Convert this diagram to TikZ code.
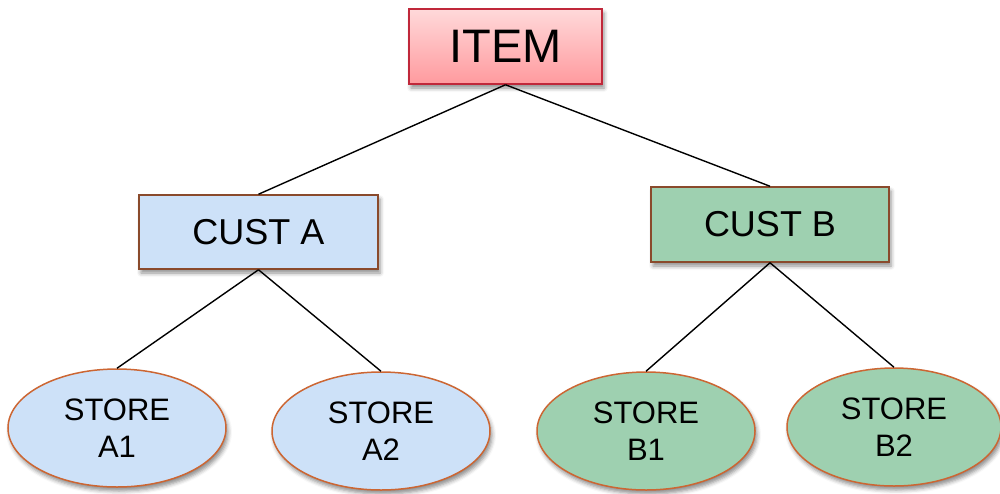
\documentclass[tikz,border=0pt]{standalone}
\usepackage{fontspec}
\setmainfont{Liberation Sans}
\usetikzlibrary{shapes.geometric,shadows.blur}

\definecolor{itemtop}{HTML}{FFD9DA}
\definecolor{itembot}{HTML}{FF9A9E}
\definecolor{itemline}{HTML}{C0283A}
\definecolor{bluefill}{HTML}{CDE1F8}
\definecolor{greenfill}{HTML}{9ED0B0}
\definecolor{boxline}{HTML}{8A4A2C}
\definecolor{ovalline}{HTML}{CC6633}

\tikzset{
  softshadow/.style={blur shadow={shadow xshift=2pt, shadow yshift=-4pt,
      shadow blur radius=4pt, shadow opacity=45}},
  boxnode/.style={rectangle, draw=boxline, line width=1.5pt, inner sep=0pt,
      font=\fontsize{36}{40}\selectfont, softshadow},
  ovalnode/.style={ellipse, draw=ovalline, line width=1.5pt, inner sep=0pt,
      minimum width=218pt, minimum height=118pt, align=center,
      font=\fontsize{31}{37}\selectfont, softshadow},
  link/.style={line width=1.4pt, black},
}

\begin{document}
\begin{tikzpicture}[x=1pt, y=-1pt]
  \useasboundingbox (0,0) rectangle (1000,493);

  % root
  \node[boxnode, draw=itemline, top color=itemtop, bottom color=itembot,
        minimum width=193pt, minimum height=75pt,
        font=\fontsize{47}{50}\selectfont] (item) at (505.5,46.5) {ITEM};

  % customers
  \node[boxnode, fill=bluefill, minimum width=239pt, minimum height=74pt]
        (custa) at (258.5,232) {CUST A};
  \node[boxnode, fill=greenfill, minimum width=238pt, minimum height=75pt]
        (custb) at (770,224.5) {CUST B};

  % stores
  \node[ovalnode, fill=bluefill]  (a1) at (117,428) {STORE\\A1};
  \node[ovalnode, fill=bluefill]  (a2) at (381,431) {STORE\\A2};
  \node[ovalnode, fill=greenfill] (b1) at (646,431) {STORE\\B1};
  \node[ovalnode, fill=greenfill, minimum width=214pt] (b2) at (894,427) {STORE\\B2};

  % connectors
  \draw[link] (item.south) -- (custa.north);
  \draw[link] (item.south) -- (custb.north);
  \draw[link] (custa.south) -- (a1.north);
  \draw[link] (custa.south) -- (a2.north);
  \draw[link] (custb.south) -- (b1.north);
  \draw[link] (custb.south) -- (b2.north);
\end{tikzpicture}
\end{document}
